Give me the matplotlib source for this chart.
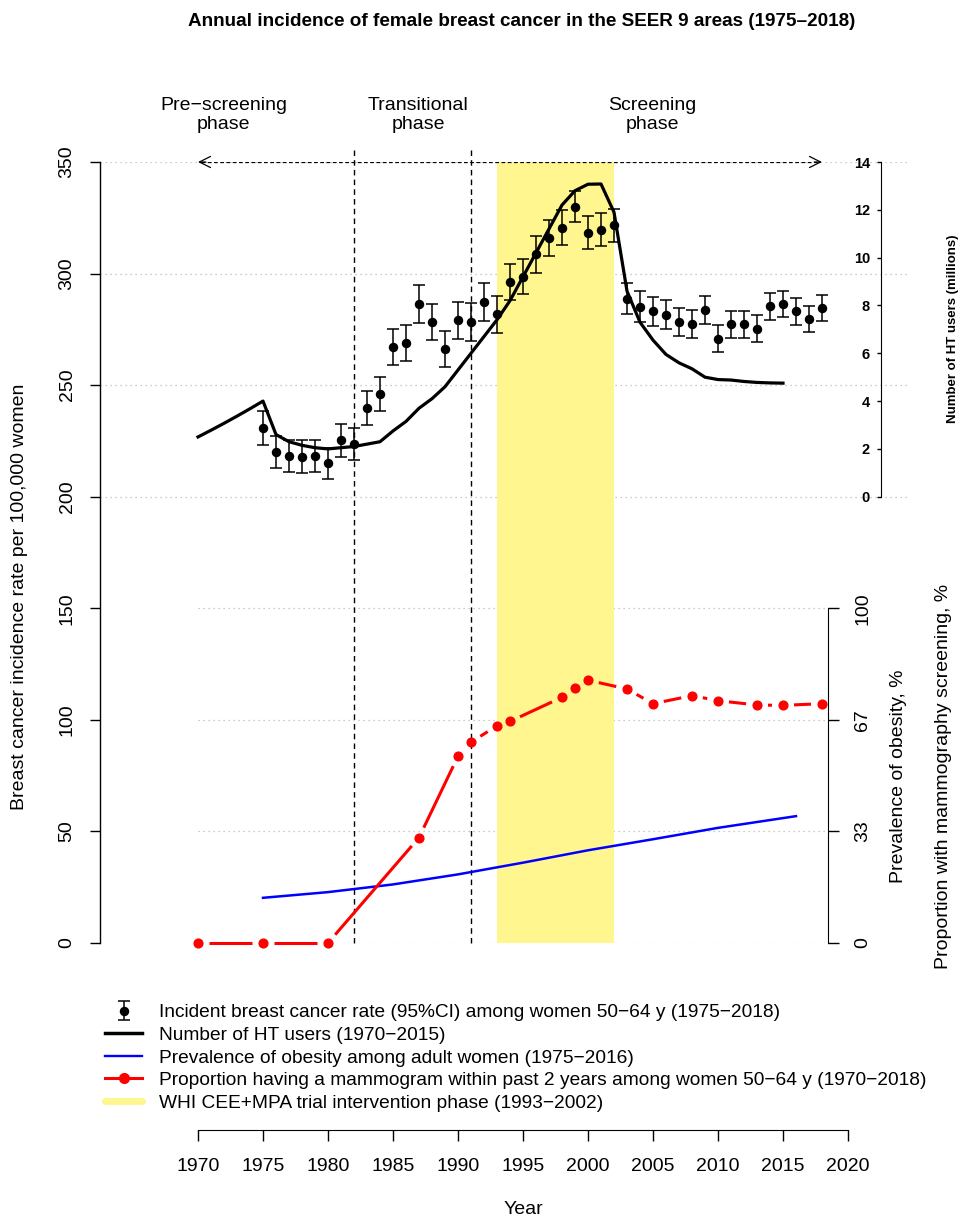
"""Annual incidence of female breast cancer (SEER 9) with HT use, obesity and
mammography screening overlays. Writes out.png (970x1217)."""

import matplotlib

matplotlib.use("Agg")
import matplotlib.pyplot as plt
import numpy as np
from matplotlib.lines import Line2D

plt.rcParams["font.family"] = ["Liberation Sans", "DejaVu Sans"]

# ------------------------------------------------------------------ #
# Data
# ------------------------------------------------------------------ #
inc_years = np.arange(1975, 2019)
inc_rate = [
    230.7, 219.9, 218.3, 218.0, 218.3, 215.0, 225.2, 223.7, 239.7, 246.1,
    267.0, 268.8, 286.3, 278.3, 266.2, 279.0, 278.3, 287.3, 281.8, 296.3,
    298.6, 308.6, 316.0, 320.6, 329.9, 318.4, 319.6, 321.7, 288.8, 285.2,
    283.1, 281.6, 278.2, 277.5, 283.7, 270.9, 277.2, 277.2, 275.3, 285.3,
    286.4, 283.1, 279.6, 284.6,
]
inc_ci_half = [
    7.6, 7.2, 7.2, 7.2, 7.2, 7.0, 7.2, 7.3, 7.6, 7.7,
    8.0, 8.0, 8.5, 8.2, 8.0, 8.3, 8.3, 8.4, 8.3, 8.1,
    7.9, 8.2, 8.0, 7.7, 6.9, 7.4, 7.4, 7.4, 7.0, 6.8,
    6.6, 6.5, 6.3, 6.2, 6.2, 6.2, 6.2, 6.2, 6.1, 6.0,
    6.0, 6.0, 6.0, 6.0,
]

ht_years = np.arange(1970, 2016)
ht_users = [
    2.5, 2.78, 3.07, 3.37, 3.68, 4.0, 2.6, 2.3, 2.15, 2.05,
    2.0, 2.05, 2.1, 2.2, 2.3, 2.75, 3.15, 3.7, 4.1, 4.6,
    5.3, 6.0, 6.7, 7.4, 8.2, 9.2, 10.2, 11.2, 12.2, 12.8,
    13.07, 13.08, 11.9, 8.6, 7.3, 6.55, 5.95, 5.6, 5.35, 5.0,
    4.9, 4.88, 4.82, 4.78, 4.76, 4.75,
]

obesity_years = [1975, 1980, 1985, 1990, 1995, 2000, 2005, 2010, 2016]
obesity_pct = [13.5, 15.2, 17.5, 20.5, 24.0, 27.7, 31.0, 34.4, 37.9]

mammo_years = [1970, 1975, 1980, 1987, 1990, 1991, 1993, 1994, 1998,
               1999, 2000, 2003, 2005, 2008, 2010, 2013, 2015, 2018]
mammo_pct = [0, 0, 0, 31.5, 55.8, 60.0, 64.9, 66.2, 73.4,
             76.2, 78.5, 75.9, 71.5, 73.9, 72.4, 71.1, 71.0, 71.5]

phase_cuts = [1982, 1991]
whi_span = (1993, 2002)
phase_text = ["Pre\u2212screening\nphase", "Transitional\nphase", "Screening\nphase"]

legend_labels = [
    "Incident breast cancer rate (95%CI) among women 50\u221264 y (1975\u22122018)",
    "Number of HT users (1970\u22122015)",
    "Prevalence of obesity among adult women (1975\u22122016)",
    "Proportion having a mammogram within past 2 years among women 50\u221264 y (1970\u22122018)",
    "WHI CEE+MPA trial intervention phase (1993\u22122002)",
]

# ------------------------------------------------------------------ #
# Layout helpers (pixel geometry of the reference)
# ------------------------------------------------------------------ #
W_PX, H_PX = 970, 1217
X1970_PX, PX_PER_YEAR = 198.0, 13.0


def fx(px):
    return px / W_PX


def fy(py):
    return 1 - py / H_PX


def year_at(px):
    return 1970 + (px - X1970_PX) / PX_PER_YEAR


XLIM = (year_at(100), year_at(910))
HT_AXIS_YEAR = year_at(881)
PCT_AXIS_YEAR = year_at(828)
HT_TO_LEFT = 150.0 / 14.0  # 0..14 million drawn over 200..350
PCT_TO_LEFT = 1.5  # 0..100 % drawn over 0..150

RED, BLUE, YELLOW = "#FF0000", "#0000FF", "#FFF68F"
GRID = dict(colors="#BBBBBB", linestyles=(0, (1, 3)), linewidths=0.9, zorder=0.5)

fig = plt.figure(figsize=(9.7, 12.17), dpi=100)
ax = fig.add_axes([fx(100), fy(943), fx(910) - fx(100), (943 - 162) / H_PX])
ax.set_xlim(*XLIM)
ax.set_ylim(0, 350)
for side in ("top", "right", "bottom"):
    ax.spines[side].set_visible(False)
ax.xaxis.set_visible(False)
ax.spines["left"].set_linewidth(1.0)

ax_ht = ax.twinx()
ax_ht.set_ylim(-200 / HT_TO_LEFT, 14)
ax_pct = ax.twinx()
ax_pct.set_ylim(0, 350 / PCT_TO_LEFT)
for a in (ax_ht, ax_pct):
    for s in a.spines.values():
        s.set_visible(False)

# gridlines, phase markers, WHI span
ax.hlines([200, 250, 300, 350], XLIM[0], XLIM[1], **GRID)
ax.hlines([0, 50, 100, 150], 1970, PCT_AXIS_YEAR, **GRID)
ax.axvspan(*whi_span, ymin=0, ymax=1, color=YELLOW, lw=0, zorder=1)
ax.vlines(phase_cuts, 0, 355.5, colors="black", linestyles=(0, (4, 3)),
          linewidths=1.0, clip_on=False, zorder=1.5)
ax.hlines(350, 1970.2, 2017.8, colors="black", linestyles=(0, (3, 2)),
          linewidths=0.9, zorder=1.5)
for tip, tail in [(1970, 1970.6), (2018, 2017.4)]:
    ax.annotate("", xy=(tip, 350), xytext=(tail, 350), annotation_clip=False,
                arrowprops=dict(arrowstyle="->", lw=0.9, color="black",
                                shrinkA=0, shrinkB=0, mutation_scale=20))

# incidence with 95% CI
eb = ax.errorbar(inc_years, inc_rate, yerr=inc_ci_half, fmt="o", color="black",
                 ms=5.8, capsize=4.3, elinewidth=1.1, capthick=1.1, zorder=3)

# HT users
ax_ht.plot(ht_years, ht_users, color="black", lw=2.3, solid_joinstyle="round")

# obesity and mammography
ax_pct.plot(obesity_years, obesity_pct, color=BLUE, lw=1.8)


def gapped_line(axis, xs, ys, gap_px, **kw):
    """R-style type='b': segments stop short of each point."""
    pts = axis.transData.transform(np.column_stack([xs, ys]))
    inv = axis.transData.inverted()
    for p0, p1 in zip(pts[:-1], pts[1:]):
        d = p1 - p0
        n = np.hypot(*d)
        if n <= 2 * gap_px:
            continue
        u = d / n
        a, b = inv.transform([p0 + u * gap_px, p1 - u * gap_px])
        axis.plot([a[0], b[0]], [a[1], b[1]], clip_on=False, **kw)


gapped_line(ax_pct, mammo_years, mammo_pct, 11, color=RED, lw=2.2,
            solid_capstyle="butt")
ax_pct.plot(mammo_years, mammo_pct, "o", color=RED, ms=6.3, clip_on=False)

# left axis
ax.set_yticks(range(0, 351, 50))
ax.tick_params(axis="y", direction="out", length=7.5, width=1, labelsize=14,
               pad=10, labelrotation=90)
for lbl in ax.get_yticklabels():
    lbl.set_va("center")
fig.text(fx(20), fy(597), "Breast cancer incidence rate per 100,000 women",
         rotation=90, ha="center", va="center", fontsize=14)

# HT axis (upper right)
ax_ht.yaxis.tick_left()
ax_ht.spines["left"].set_visible(True)
ax_ht.spines["left"].set_position(("data", HT_AXIS_YEAR))
ax_ht.spines["left"].set_bounds(0, 14)
ax_ht.set_yticks(range(0, 15, 2))
ax_ht.tick_params(axis="y", direction="out", length=3, width=1, pad=5)
for lbl in ax_ht.get_yticklabels():
    lbl.set_fontsize(10.5)
    lbl.set_fontweight("bold")
fig.text(fx(953), fy(329), "Number of HT users (millions)", rotation=90,
         ha="center", va="center", fontsize=9.5, fontweight="bold")

# percentage axis (lower right)
ax_pct.spines["right"].set_visible(True)
ax_pct.spines["right"].set_position(("data", PCT_AXIS_YEAR))
ax_pct.spines["right"].set_bounds(0, 100)
ax_pct.set_yticks([0, 100 / 3, 200 / 3, 100], ["0", "33", "67", "100"])
ax_pct.tick_params(axis="y", direction="out", length=8, width=1, labelsize=14,
                   pad=11, labelrotation=90)
for lbl in ax_pct.get_yticklabels():
    lbl.set_va("center")
fig.text(fx(899), fy(776), "Prevalence of obesity, %", rotation=90,
         ha="center", va="center", fontsize=14)
fig.text(fx(944), fy(776), "Proportion with mammography screening, %",
         rotation=90, ha="center", va="center", fontsize=14)

# x axis, drawn below the legend
ax_x = fig.add_axes([fx(100), fy(1130), fx(910) - fx(100), 0.001])
ax_x.set_xlim(*XLIM)
ax_x.patch.set_visible(False)
for side in ("top", "right", "left"):
    ax_x.spines[side].set_visible(False)
ax_x.spines["bottom"].set_bounds(1970, 2020)
ax_x.set_yticks([])
ax_x.set_xticks(range(1970, 2021, 5))
ax_x.tick_params(axis="x", direction="out", length=8, width=1, labelsize=14, pad=12)
fig.text(fx(523), fy(1210), "Year", ha="center", va="center", fontsize=14)

# titles
fig.text(fx(522), fy(21), "Annual incidence of female breast cancer in the SEER 9 areas (1975\u20132018)",
         ha="center", va="center", fontsize=13.6, fontweight="bold")
for px, txt in zip([223.5, 418, 652], phase_text):
    fig.text(fx(px), fy(115), txt, ha="center", va="center", fontsize=14,
             multialignment="center")

# legend
handles = [
    eb,
    Line2D([], [], color="black", lw=2.5),
    Line2D([], [], color=BLUE, lw=1.7),
    Line2D([], [], color=RED, lw=2.2, marker="o", ms=7),
    Line2D([], [], color=YELLOW, lw=5, solid_capstyle="round"),
]
fig.legend(handles, legend_labels, loc="upper left", bbox_to_anchor=(fx(105), fy(1004)),
           frameon=False, fontsize=13.8, handlelength=1.95, handletextpad=0.87,
           labelspacing=0.27, borderpad=0, borderaxespad=0)

fig.savefig("out.png", dpi=100)
plt.close(fig)
